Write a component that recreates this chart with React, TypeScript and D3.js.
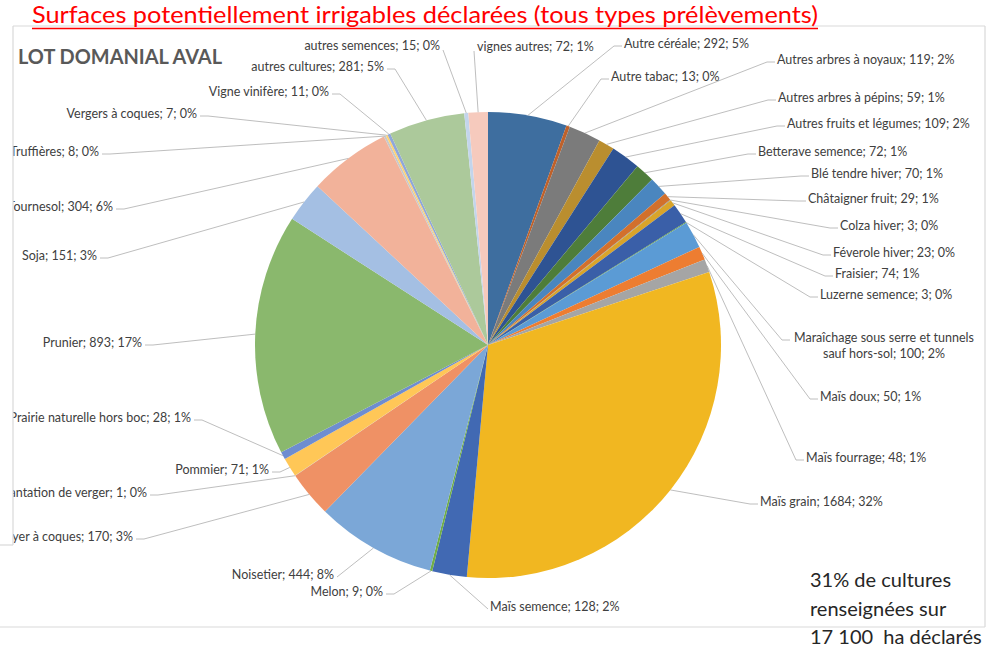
import React from "react";
import * as d3 from "d3";

// ---- Data ----
const categories = [
  "Autre céréale",
  "Autre tabac",
  "Autres arbres à noyaux",
  "Autres arbres à pépins",
  "Autres fruits et légumes",
  "Betterave semence",
  "Blé tendre hiver",
  "Châtaigner fruit",
  "Colza hiver",
  "Féverole hiver",
  "Fraisier",
  "Luzerne semence",
  "Maraîchage sous serre et tunnels sauf hors-sol",
  "Maïs doux",
  "Maïs fourrage",
  "Maïs grain",
  "Maïs semence",
  "Melon",
  "Noisetier",
  "Noyer à coques",
  "Plantation de verger",
  "Pommier",
  "Prairie naturelle hors boc",
  "Prunier",
  "Soja",
  "Tournesol",
  "Truffières",
  "Vergers à coques",
  "Vigne vinifère",
  "autres cultures",
  "autres semences",
  "vignes autres",
];

const values = [
  292, 13, 119, 59, 109, 72, 70, 29, 3, 23, 74, 3, 100, 50, 48, 1684, 128, 9,
  444, 170, 1, 71, 28, 893, 151, 304, 8, 7, 11, 281, 15, 72,
];

const titleText = "Surfaces potentiellement irrigables déclarées (tous types prélèvements)";
const subtitleText = "LOT DOMANIAL AVAL";
const noteLines = ["31% de cultures", "renseignées sur", "17 100  ha déclarés"];

// ---- Styles ----
const palette = [
  "#3E6E9F", "#BF612A", "#7B7B7B", "#BA8E2F", "#2E5393", "#4E7D3A",
  "#4A86BF", "#D2702C", "#8C8C8C", "#D9A42A", "#3A5FA8", "#5F9A40",
  "#5B9BD5", "#ED7D31", "#A5A5A5", "#F1B721", "#4169B3", "#70AD47",
  "#7BA7D7", "#EF9165", "#B7B7B7", "#FFC757", "#6E8DD0", "#8AB86D",
  "#A4BFE3", "#F2B29A", "#C9C9C9", "#FFD36E", "#8FA7DA", "#ACC99B",
  "#C3D5EC", "#F6CABD",
];

// label placement (as placed manually in the original chart)
type LabelPos = { x: number; y: number; anchor: "start" | "end" | "middle"; elbow: boolean; ax?: number };
const labelLayout: LabelPos[] = [
  { x: 624, y: 43, anchor: "start", elbow: true },
  { x: 611, y: 76, anchor: "start", elbow: true },
  { x: 777, y: 59, anchor: "start", elbow: true },
  { x: 778, y: 97, anchor: "start", elbow: true },
  { x: 787, y: 123, anchor: "start", elbow: true },
  { x: 758, y: 151, anchor: "start", elbow: true },
  { x: 811, y: 173, anchor: "start", elbow: true },
  { x: 808, y: 198, anchor: "start", elbow: true },
  { x: 840, y: 225, anchor: "start", elbow: true },
  { x: 833, y: 252, anchor: "start", elbow: true },
  { x: 835, y: 273, anchor: "start", elbow: true },
  { x: 820, y: 294, anchor: "start", elbow: true },
  { x: 884, y: 337, anchor: "middle", elbow: true, ax: 792 },
  { x: 820, y: 396, anchor: "start", elbow: true },
  { x: 806, y: 457, anchor: "start", elbow: true },
  { x: 760, y: 501, anchor: "start", elbow: true },
  { x: 490, y: 606, anchor: "start", elbow: false },
  { x: 383, y: 591, anchor: "end", elbow: true },
  { x: 334, y: 574, anchor: "end", elbow: false },
  { x: 133, y: 536, anchor: "end", elbow: true },
  { x: 147, y: 492, anchor: "end", elbow: true },
  { x: 269, y: 469, anchor: "end", elbow: true },
  { x: 191, y: 417, anchor: "end", elbow: true },
  { x: 142, y: 342, anchor: "end", elbow: true },
  { x: 97, y: 255, anchor: "end", elbow: true },
  { x: 113, y: 206, anchor: "end", elbow: true },
  { x: 99, y: 151, anchor: "end", elbow: true },
  { x: 197, y: 113, anchor: "end", elbow: true },
  { x: 329, y: 91, anchor: "end", elbow: true },
  { x: 384, y: 66, anchor: "end", elbow: true },
  { x: 440, y: 45, anchor: "end", elbow: false },
  { x: 477, y: 46, anchor: "start", elbow: false },
];

const W = 1006;
const H = 648;
const CX = 488;
const CY = 345;
const R = 233;
const FONT = "Lato, 'Liberation Sans', Arial, sans-serif";

export default function App() {
  const total = d3.sum(values);
  const arcs = d3.pie<number>().sort(null).value((d) => d)(values);
  const arcGen = d3.arc<d3.PieArcDatum<number>>().innerRadius(0).outerRadius(R);
  const pct = (i: number) => Math.round((values[i] / total) * 100);
  const labelText = (i: number) => `${categories[i]}; ${values[i]}; ${pct(i)}%`;

  return (
    <svg
      width={W}
      height={H}
      style={{ position: "absolute", left: 0, top: 0, background: "#fff" }}
      fontFamily={FONT}
    >
      <rect x={0} y={0} width={W} height={H} fill="#fff" />
      {/* pie */}
      <g transform={`translate(${CX},${CY})`}>
        {arcs.map((a, i) => (
          <path key={i} d={arcGen(a) || ""} fill={palette[i]} />
        ))}
      </g>
      {/* leader lines */}
      <g fill="none" stroke="#ADADAD" strokeWidth={0.8}>
        {arcs.map((a, i) => {
          const L = labelLayout[i];
          const mid = (a.startAngle + a.endAngle) / 2;
          const px = CX + Math.sin(mid) * R;
          const py = CY - Math.cos(mid) * R;
          let sx: number;
          let sy = L.y + 3;
          let dir: number;
          if (L.anchor === "start") {
            sx = L.x - 2;
            dir = -1;
          } else if (L.anchor === "end") {
            sx = L.x + 3;
            dir = 1;
          } else {
            sx = (L.ax ?? L.x) - 2;
            dir = -1;
          }
          if (i === 30) { sx = L.x + 3; sy = L.y + 5; }
          if (i === 31) { sx = L.x - 3; sy = L.y + 5; }
          const pts: [number, number][] = [[sx, sy]];
          if (L.elbow) pts.push([sx + dir * 8, sy]);
          pts.push([px, py]);
          return <polyline key={i} points={pts.map((p) => p.join(",")).join(" ")} />;
        })}
      </g>
      {/* labels */}
      <g fontSize={12.5} fill="#404040">
        {arcs.map((a, i) => {
          const L = labelLayout[i];
          if (i === 12) {
            return (
              <text key={i} x={L.x} y={L.y} textAnchor="middle" dominantBaseline="central">
                <tspan x={L.x} dy={0}>Maraîchage sous serre et tunnels</tspan>
                <tspan x={L.x} dy={16}>{`sauf hors-sol; ${values[i]}; ${pct(i)}%`}</tspan>
              </text>
            );
          }
          return (
            <text key={i} x={L.x} y={L.y} textAnchor={L.anchor} dominantBaseline="central">
              {labelText(i)}
            </text>
          );
        })}
      </g>
      {/* cover on the left (overlapping box) */}
      <rect x={0} y={26} width={13} height={519} fill="#fff" />
      {/* borders */}
      <g stroke="#D9D9D9" strokeWidth={1.2} fill="none">
        <line x1={13} y1={26} x2={985} y2={26} />
        <line x1={985} y1={26} x2={985} y2={627} />
        <line x1={0} y1={627} x2={985} y2={627} />
        <line x1={13} y1={26} x2={13} y2={545} />
        <line x1={0} y1={545} x2={13} y2={545} />
      </g>
      {/* title */}
      <text x={32} y={23} fill="#FF0000" fontSize={23} textLength={786} lengthAdjust="spacingAndGlyphs">
        {titleText}
      </text>
      <line x1={32} y1={28.5} x2={818} y2={28.5} stroke="#FF0000" strokeWidth={1.6} />
      {/* subtitle */}
      <text x={18} y={64} fill="#595959" fontSize={20} fontWeight={700} textLength={204} lengthAdjust="spacingAndGlyphs">
        {subtitleText}
      </text>
      {/* note */}
      <g fontSize={20} fill="#262626" style={{ whiteSpace: "pre" }}>
        {noteLines.map((t, i) => (
          <text key={i} x={810} y={587 + i * 28.5} xmlSpace="preserve">
            {t}
          </text>
        ))}
      </g>
    </svg>
  );
}
